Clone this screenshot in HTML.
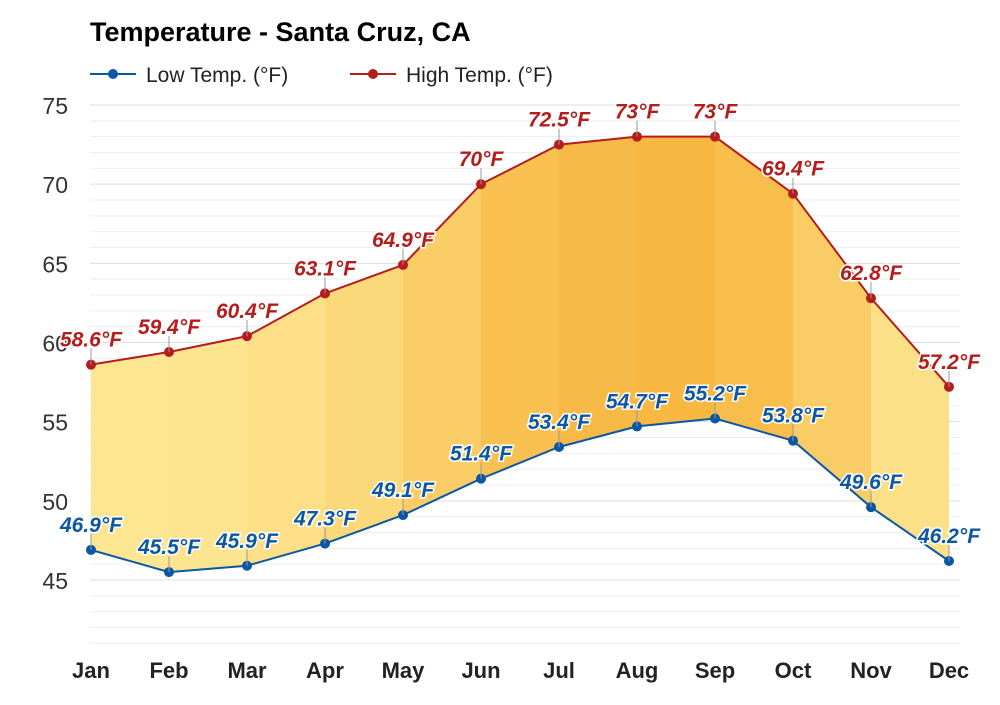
<!DOCTYPE html>
<html><head><meta charset="utf-8"><style>
body{margin:0;background:#fff;font-family:"Liberation Sans",Arial,sans-serif}
</style></head><body>
<svg width="1000" height="700" viewBox="0 0 1000 700" xmlns="http://www.w3.org/2000/svg">
<text x="90" y="41" font-size="27" font-weight="bold" fill="#000">Temperature - Santa Cruz, CA</text>
<g><line x1="90" y1="74" x2="136" y2="74" stroke="#0b57a4" stroke-width="2"/><circle cx="113" cy="74" r="5" fill="#0b57a4"/><text x="146" y="82" font-size="21" fill="#222">Low Temp. (°F)</text></g>
<g><line x1="350" y1="74" x2="396" y2="74" stroke="#b51c1c" stroke-width="2"/><circle cx="373" cy="74" r="5" fill="#b51c1c"/><text x="406" y="82" font-size="21" fill="#222">High Temp. (°F)</text></g>
<g id="grid"></g><g id="fill"></g><g id="lines"></g><g id="labels"></g>
</svg>
<script>
const months=["Jan","Feb","Mar","Apr","May","Jun","Jul","Aug","Sep","Oct","Nov","Dec"];
const lows=[46.9,45.5,45.9,47.3,49.1,51.4,53.4,54.7,55.2,53.8,49.6,46.2];
const highs=[58.6,59.4,60.4,63.1,64.9,70,72.5,73,73,69.4,62.8,57.2];
const yTicks=[45,50,55,60,65,70,75];
const NS="http://www.w3.org/2000/svg";
const X=i=>91+i*78, Y=v=>105+(75-v)*475/30;
function mk(t,a,p){const e=document.createElementNS(NS,t);for(const k in a)e.setAttribute(k,a[k]);p.appendChild(e);return e;}
const grid=document.getElementById('grid');
for(let v=41;v<=75;v++){
 const l=mk('line',{x1:90,x2:960,y1:Y(v),y2:Y(v),stroke:v%5==0?'#ddd':'#eee','stroke-width':1},grid);
 
 
}
yTicks.forEach(v=>{const t=mk('text',{x:68,y:Y(v)+9,'font-size':23,fill:'#333','text-anchor':'end'},grid);t.textContent=v;
 
 });
months.forEach((m,i)=>{const t=mk('text',{x:X(i),y:678,'font-size':22,'font-weight':'bold',fill:'#222','text-anchor':'middle'},grid);t.textContent=m;
 
 });
const fill=document.getElementById('fill');
function col(t){const f=Math.max(0,Math.min(1,(t-52)/12));const a=[253,232,150],b=[248,184,66];
 return 'rgb('+a.map((c,k)=>Math.round(c+(b[k]-c)*f)).join(',')+')';}
for(let i=0;i<11;i++){
 const avg=(lows[i]+highs[i]+lows[i+1]+highs[i+1])/4;
 const p=mk('polygon',{points:`${X(i)},${Y(highs[i])} ${X(i+1)},${Y(highs[i+1])} ${X(i+1)},${Y(lows[i+1])} ${X(i)},${Y(lows[i])}`,fill:col(avg)},fill);
 
 
}
const lines=document.getElementById('lines'),labels=document.getElementById('labels');
[[lows,'#0b57a4','low'],[highs,'#b51c1c','high']].forEach(([d,c,n])=>{
 const pl=mk('polyline',{points:d.map((v,i)=>X(i)+','+Y(v)).join(' '),fill:'none',stroke:c,'stroke-width':2},lines);
 
 
 d.forEach((v,i)=>{
  mk('line',{x1:X(i),x2:X(i),y1:Y(v)-16,y2:Y(v),stroke:'#999','stroke-width':1},labels);
  const pt=mk('circle',{cx:X(i),cy:Y(v),r:5,fill:c},lines);
  
  
  const t=mk('text',{x:X(i),y:Y(v)-18,'font-size':21,'font-weight':'bold','font-style':'italic',fill:c,'text-anchor':'middle',stroke:'#fff','stroke-width':3,'paint-order':'stroke'},labels);
  t.textContent=v+'°F';
  
  
 });
});
</script>
</body></html>
